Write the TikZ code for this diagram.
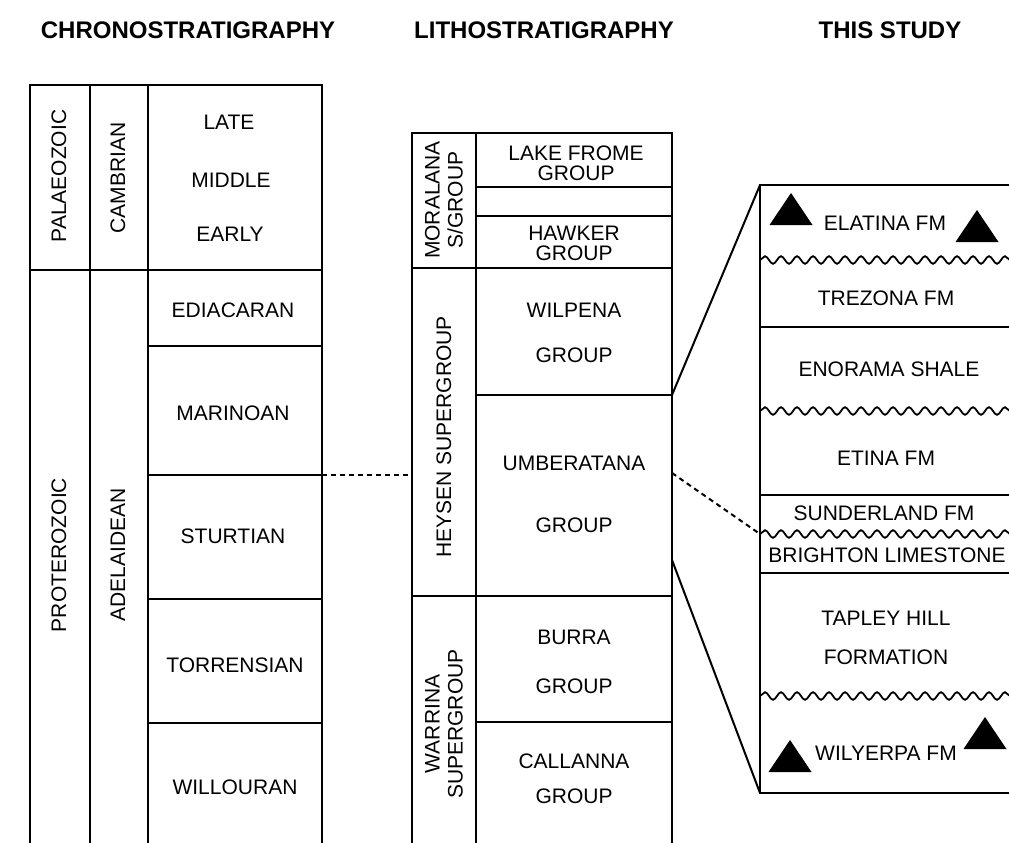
\documentclass[tikz,border=0pt]{standalone}
\usepackage{fontspec}
\setmainfont{Liberation Sans}
\usetikzlibrary{decorations.pathmorphing}
\tikzset{
  col/.style={line width=2pt},
  wavy/.style={line width=1.8pt, decorate, decoration={snake, segment length=16pt, amplitude=3.8pt}},
  lbl/.style={font=\fontsize{21}{20}\selectfont, align=center, inner sep=0pt},
  vlbl/.style={lbl, font=\fontsize{21}{23}\selectfont, rotate=90},
  head/.style={font=\fontsize{24}{28}\selectfont\bfseries, inner sep=0pt},
  tie/.style={line width=2pt},
  tiedash/.style={line width=2pt, dash pattern=on 5pt off 4pt},
}
\newcommand{\glacial}[1]{\fill (#1) ++(-21.5,0) -- ++(43,0) -- ++(-21.5,-32) -- cycle;}
\begin{document}
\begin{tikzpicture}[x=1pt,y=-1pt]
    \useasboundingbox (0,0) rectangle (1009,843);

    \node[head] (hchrono) at (188,30) {CHRONOSTRATIGRAPHY};
    \node[head] (hlitho) at (544,30) {LITHOSTRATIGRAPHY};
    \node[head] (hstudy) at (890,30) {THIS STUDY};

    \draw[col] (30,843) -- (30,85) -- (322,85) -- (322,843);
    \draw[col] (90,85) -- (90,843) (148,85) -- (148,843);
    \draw[col] (30,270) -- (322,270);
    \foreach \y in {346,475,599,723}
        \draw[col] (148,\y) -- (322,\y);

    \node[vlbl] (palaeo) at (59,176) {PALAEOZOIC};
    \node[vlbl] (camb) at (118,178) {CAMBRIAN};
    \node[vlbl] (protero) at (59,555) {PROTEROZOIC};
    \node[vlbl] (adel) at (118,555) {ADELAIDEAN};
    \node[lbl] (late) at (229,122) {LATE};
    \node[lbl] (middle) at (231,180) {MIDDLE};
    \node[lbl] (early) at (230,234) {EARLY};
    \node[lbl] (ediac) at (233,310) {EDIACARAN};
    \node[lbl] (marin) at (233,413) {MARINOAN};
    \node[lbl] (sturt) at (233,536) {STURTIAN};
    \node[lbl] (torr) at (235,665) {TORRENSIAN};
    \node[lbl] (willo) at (235,787) {WILLOURAN};

    \draw[col] (412,843) -- (412,133) -- (672,133) -- (672,843);
    \draw[col] (476,133) -- (476,843);
    \foreach \y in {187,216,395,722}
        \draw[col] (476,\y) -- (672,\y);
    \draw[col] (412,268) -- (672,268) (412,596) -- (672,596);

    \node[vlbl] (moral) at (444,200) {MORALANA\\S/GROUP};
    \node[vlbl] (heysen) at (444,437) {HEYSEN SUPERGROUP};
    \node[vlbl] (warr) at (444,724) {WARRINA\\SUPERGROUP};
    \node[lbl] (frome) at (576,163) {LAKE FROME\\GROUP};
    \node[lbl] (hawker) at (574,243) {HAWKER\\GROUP};
    \node[lbl] (wilp) at (574,310) {WILPENA};
    \node[lbl] (wilpg) at (574,355) {GROUP};
    \node[lbl] (umb) at (574,463) {UMBERATANA};
    \node[lbl] (umbg) at (574,525) {GROUP};
    \node[lbl] (burra) at (574,637) {BURRA};
    \node[lbl] (burrag) at (574,686) {GROUP};
    \node[lbl] (call) at (574,761) {CALLANNA};
    \node[lbl] (callg) at (574,796) {GROUP};

    \draw[col] (1009,185) -- (760,185) -- (760,793) -- (1009,793);
    \foreach \y in {327,495,573}
        \draw[col] (760,\y) -- (1009,\y);
    \foreach \y in {260,411,534,696}
        \draw[wavy] (760,\y) -- (1012,\y);

    \node[lbl] (elat) at (885,223) {ELATINA FM};
    \node[lbl] (trez) at (886,298) {TREZONA FM};
    \node[lbl] (enor) at (889,369) {ENORAMA SHALE};
    \node[lbl] (etina) at (886,458) {ETINA FM};
    \node[lbl] (sund) at (884,513) {SUNDERLAND FM};
    \node[lbl] (bright) at (887,555) {BRIGHTON LIMESTONE};
    \node[lbl] (tapley) at (886,618) {TAPLEY HILL};
    \node[lbl] (tapleyf) at (886,657) {FORMATION};
    \node[lbl] (wily) at (886,753) {WILYERPA FM};

    \glacial{791,225}
    \glacial{977,242}
    \glacial{790,772}
    \glacial{985,749}

    \coordinate (sturtT) at (322,475);
    \coordinate (umbL) at (412,475);
    \coordinate (umbR) at (672,473);
    \coordinate (sundB) at (760,534);
    \coordinate (umbT) at (672,395);
    \coordinate (studyT) at (760,185);
    \coordinate (umbM) at (672,560);
    \coordinate (studyB) at (760,793);
    \draw[tiedash] (sturtT) -- (umbL);
    \draw[tiedash] (umbR) -- (sundB);
    \draw[tie] (umbT) -- (studyT);
    \draw[tie] (umbM) -- (studyB);
\end{tikzpicture}
\end{document}
